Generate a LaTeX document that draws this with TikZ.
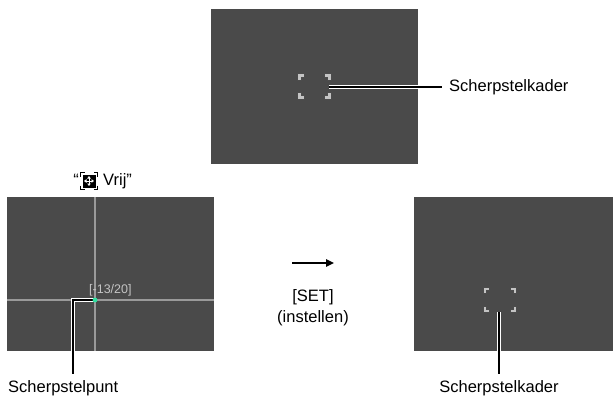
\documentclass[tikz,border=0pt]{standalone}
\usepackage{fontspec}
\setmainfont{Liberation Sans}
\usetikzlibrary{arrows.meta,calc}
\begin{document}
\begin{tikzpicture}[x=1pt,y=-1pt,
  screen/.style={fill=scr,draw=none},
  lbl/.style={inner sep=0pt,font=\fontsize{16.5}{19}\selectfont},
  cross/.style={draw=crossgray,line width=1.2pt},
  corner/.style={line width=2.4pt,draw=bracketgray,line cap=rect},
  cornerout/.style={line width=4.2pt,draw=black!70,line cap=rect},
  leadw/.style={draw=white,line width=4.4pt},
  leadb/.style={draw=black,line width=1.8pt}]
\definecolor{scr}{HTML}{4A4A4A}
\definecolor{crossgray}{HTML}{9A9A9A}
\definecolor{bracketgray}{HTML}{C4C4C4}
\definecolor{dotgreen}{HTML}{2FE0A0}
\useasboundingbox (0,0) rectangle (613,397);
% screens
\path[screen] (211,9) rectangle (418,164);
\path[screen] (7,197) rectangle (214,351);
\path[screen] (414,197) rectangle (613,351);
% crosshair in left screen
\draw[cross] (95,197) -- (95,351);
\draw[cross] (7,300) -- (214,300);
% corner brackets
\foreach \cx/\cy in {314.5/86.5, 500/300}{
  \foreach \sx/\sy in {-1/-1,1/-1,-1/1,1/1}{
    \draw[cornerout] (\cx+\sx*15-\sx*3,\cy+\sy*11) -- (\cx+\sx*15,\cy+\sy*11) -- (\cx+\sx*15,\cy+\sy*11-\sy*3);
    \draw[corner] (\cx+\sx*15-\sx*3,\cy+\sy*11) -- (\cx+\sx*15,\cy+\sy*11) -- (\cx+\sx*15,\cy+\sy*11-\sy*3);
  }
}
% labels
\node[lbl,anchor=west] (topkader) at (449,87) {Scherpstelkader};
\node[lbl,anchor=west] (punt) at (8,388) {Scherpstelpunt};
\node[lbl] (botkader) at (499,388) {Scherpstelkader};
\node[lbl] (set) at (313,297) {[SET]};
\node[lbl] (inst) at (313,318) {(instellen)};
\node[inner sep=0pt,font=\fontsize{12.5}{14}\selectfont,text=bracketgray,anchor=west] (val) at (89,290.5) {[-13/20]};
% coordinates for leader starts
\coordinate (topstart) at (329,87);
\coordinate (topend) at (442,87);
\coordinate (dot) at (95,300);
\coordinate (bend) at (73,300);
\coordinate (puntend) at (73,374);
\coordinate (botstart) at (499,312);
\coordinate (botend) at (499,374);
% leaders
\draw[leadw] (topstart) -- (418,87);
\draw[leadb] (topstart) -- (topend);
\draw[leadw] (dot) -- (bend) -- (73,351);
\draw[leadb] (dot) -- (bend) -- (puntend);
\draw[leadw] (botstart) -- (499,351);
\draw[leadb] (botstart) -- (botend);
% green dot
\fill[dotgreen] (dot) circle (2.4);
% arrow
\coordinate (arrs) at (292,263);
\coordinate (arre) at (334,263);
\draw[line width=1.6pt,-{Triangle[length=8pt,width=7.5pt]}] (arrs) -- (arre);
% Vrij label with icon
\coordinate (ic) at (89,181);
\node[lbl,anchor=east] (lq) at (79,180) {“};
\node[lbl,anchor=west] (vrij) at (103,181) {Vrij”};
\fill[black] ($(ic)+(-6.5,-6.5)$) rectangle ($(ic)+(6.5,6.5)$);
\begin{scope}[shift={(ic)}]
  \draw[black,line width=1pt] (-8.5,-4.5) -- (-8.5,-8.5) -- (-4.5,-8.5);
  \draw[black,line width=1pt] (8.5,-4.5) -- (8.5,-8.5) -- (4.5,-8.5);
  \draw[black,line width=1pt] (-8.5,4.5) -- (-8.5,8.5) -- (-4.5,8.5);
  \draw[black,line width=1pt] (8.5,4.5) -- (8.5,8.5) -- (4.5,8.5);
  \draw[white,line width=1pt,{Triangle[length=2.5pt,width=3.5pt]}-{Triangle[length=2.5pt,width=3.5pt]}] (-5,0) -- (5,0);
  \draw[white,line width=1pt,{Triangle[length=2.5pt,width=3.5pt]}-{Triangle[length=2.5pt,width=3.5pt]}] (0,-5) -- (0,5);
\end{scope}
\end{tikzpicture}
\end{document}
